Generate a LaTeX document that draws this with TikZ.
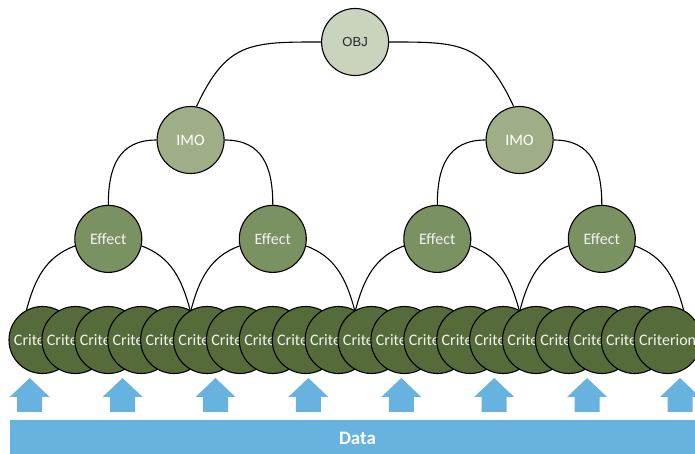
\documentclass[tikz,border=0pt]{standalone}
\usepackage{fontspec}
\setmainfont{Carlito}
\newfontfamily\objfont{Liberation Sans}
\usetikzlibrary{positioning}

\definecolor{objgreen}{RGB}{201,211,190}
\definecolor{imogreen}{RGB}{160,174,136}
\definecolor{effgreen}{RGB}{122,145,98}
\definecolor{critgreen}{RGB}{85,107,58}
\definecolor{datablue}{RGB}{104,178,224}

\tikzstyle{tree} = [
circle,
draw=black,
line width=1.1pt,
minimum size=67pt,
inner sep=0pt,
font=\fontsize{16}{18}\selectfont]
\tikzstyle{objnode} = [tree, fill=objgreen, text=black!85, font=\objfont\fontsize{13}{15}\selectfont]
\tikzstyle{imonode} = [tree, fill=imogreen, text=white]
\tikzstyle{effectnode} = [tree, fill=effgreen, text=white!95!black]
\tikzstyle{critnode} = [tree, fill=critgreen, text=white!92!critgreen]
\tikzstyle{link} = [
draw=black,
line width=1.1pt]
\tikzstyle{databar} = [
rectangle,
fill=datablue,
text=white,
minimum width=695pt,
minimum height=36pt,
inner sep=0pt,
font=\bfseries\fontsize{19}{22}\selectfont]

\begin{document}
\begin{tikzpicture}[x=1pt, y=1pt]

\useasboundingbox (0,0) rectangle (695,454);
\clip (0,0) rectangle (695,454);

% criteria row
\foreach \i in {0,...,19}{
  \node[critnode] (crit\i) at ({42.5+32.9*\i},114) {Criterion};
}

\node[effectnode, above=33pt of crit2] (effectA) {Effect};
\node[effectnode, above=33pt of crit7] (effectB) {Effect};
\node[effectnode, above=33pt of crit12] (effectC) {Effect};
\node[effectnode, above=33pt of crit17] (effectD) {Effect};
\node[imonode] (imoA) at (190.6,314) {IMO};
\node[imonode] (imoB) at (519.6,314) {IMO};
\node[objnode] (obj) at (355.1,412) {OBJ};

\draw[link] (obj.west) to[out=180, in=65, looseness=1.3] (imoA.80);
\draw[link] (obj.east) to[out=0, in=115, looseness=1.3] (imoB.100);
\draw[link] (imoA.west) to[out=180, in=90, looseness=1.2] (effectA.north);
\draw[link] (imoA.east) to[out=0, in=90, looseness=1.2] (effectB.north);
\draw[link] (imoB.west) to[out=180, in=90, looseness=1.2] (effectC.north);
\draw[link] (imoB.east) to[out=0, in=90, looseness=1.2] (effectD.north);
\draw[link] (effectA.192) to[out=200, in=75] (crit0.118);
\draw[link] (effectA.-12) to[out=-20, in=105] (crit4.62);
\draw[link] (effectB.192) to[out=200, in=75] (crit5.118);
\draw[link] (effectB.-12) to[out=-20, in=105] (crit9.62);
\draw[link] (effectC.192) to[out=200, in=75] (crit10.118);
\draw[link] (effectC.-12) to[out=-20, in=105] (crit14.62);
\draw[link] (effectD.192) to[out=200, in=75] (crit15.118);
\draw[link] (effectD.-12) to[out=-20, in=105] (crit19.62);

% input arrows
\foreach \i in {0,...,7}{
  \pgfmathsetmacro\ax{29.7+92.9*\i}
  \fill[datablue] (\ax-12.5,42) -- (\ax-12.5,57) -- (\ax-20,57) -- (\ax,76)
    -- (\ax+20,57) -- (\ax+12.5,57) -- (\ax+12.5,42) -- cycle;
}

\node[databar] (data) at (357.5,16) {Data};

\end{tikzpicture}
\end{document}
